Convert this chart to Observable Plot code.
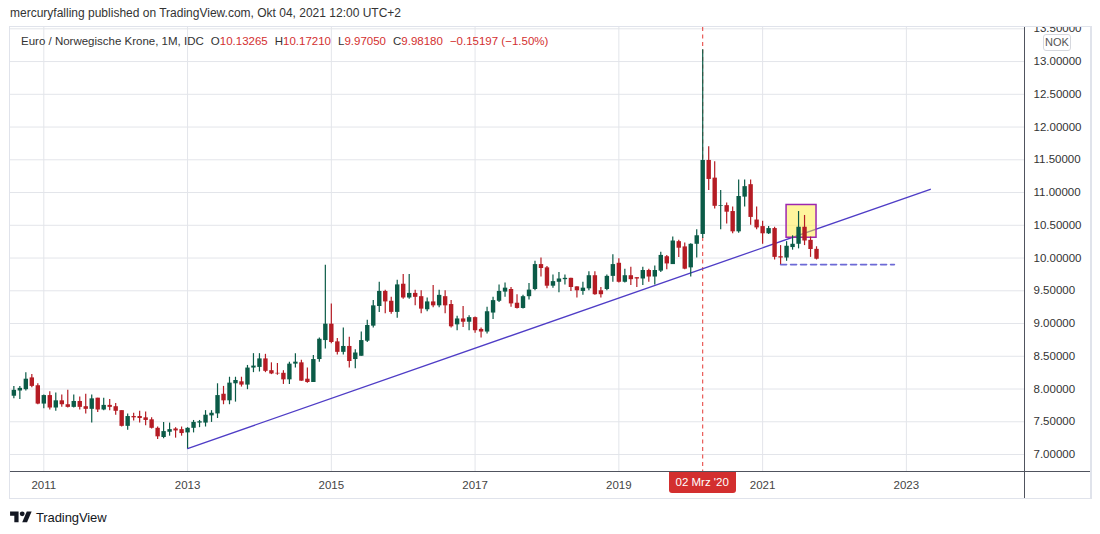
<!DOCTYPE html>
<html>
<head>
<meta charset="utf-8">
<script src="https://cdn.jsdelivr.net/npm/d3@7"></script>
<script src="https://cdn.jsdelivr.net/npm/@observablehq/plot@0.6"></script>
<style>
  html, body { margin:0; padding:0; background:#fff; }
  body { width:1100px; height:534px; position:relative; overflow:hidden; font-family:"Liberation Sans", Arial, sans-serif; color:#333; }
  #title { position:absolute; left:10px; top:6px; font-size:12px; color:#333; white-space:nowrap; }
  #frame { position:absolute; left:9px; top:26px; width:1080px; height:471px; border:1px solid #e0e3eb; border-right-width:2px; overflow:hidden; background:#fff; }
  #chart { position:absolute; left:0; top:0; }
  #legend { position:absolute; left:11px; top:8px; font-size:11.5px; color:#333; white-space:nowrap; z-index:3; }
  #legend span.item { margin-left:7px; }
  #legend .v { color:#d32f2f; }
  .axisline { position:absolute; background:#50535e; z-index:2; }
  #nok { position:absolute; left:1033px; top:7px; width:26px; height:15px; border:1px solid #d6d8de; border-radius:3px; background:#fff; font-size:11px; color:#555; text-align:center; line-height:15px; z-index:3; }
  #datebox { position:absolute; width:67px; height:21px; background:#d32f2f; color:#fff; font-size:11.5px; text-align:center; line-height:20px; border-radius:0 0 3px 3px; z-index:4; white-space:nowrap; }
  #brand { position:absolute; left:10px; top:508px; height:18px; display:flex; align-items:center; gap:4px; color:#131722; font-size:13px; letter-spacing:-0.1px; }
</style>
</head>
<body>
<div id="title">mercuryfalling published on TradingView.com, Okt 04, 2021 12:00 UTC+2</div>
<div id="frame">
  <div id="legend">Euro / Norwegische Krone, 1M, IDC<span class="item">O<span class="v">10.13265</span></span><span class="item">H<span class="v">10.17210</span></span><span class="item">L<span class="v">9.97050</span></span><span class="item">C<span class="v">9.98180</span></span><span class="item v">−0.15197 (−1.50%)</span></div>
  <div id="nok">NOK</div>
</div>
<div id="brand"><svg width="22" height="17" viewBox="0 0 36 28"><path d="M14 22H7V11H0V4h14v18z" fill="#131722"/><circle cx="20" cy="8" r="4" fill="#131722"/><path d="M28 22h-8l7.5-18h8L28 22z" fill="#131722"/></svg><span>TradingView</span></div>
<script>
// ---- monthly candles, EUR/NOK (Aug 2010 – Oct 2021) ----
const months = [
  "2010-08","2010-09","2010-10","2010-11","2010-12",
  "2011-01","2011-02","2011-03","2011-04","2011-05","2011-06","2011-07","2011-08","2011-09","2011-10","2011-11","2011-12",
  "2012-01","2012-02","2012-03","2012-04","2012-05","2012-06","2012-07","2012-08","2012-09","2012-10","2012-11","2012-12",
  "2013-01","2013-02","2013-03","2013-04","2013-05","2013-06","2013-07","2013-08","2013-09","2013-10","2013-11","2013-12",
  "2014-01","2014-02","2014-03","2014-04","2014-05","2014-06","2014-07","2014-08","2014-09","2014-10","2014-11","2014-12",
  "2015-01","2015-02","2015-03","2015-04","2015-05","2015-06","2015-07","2015-08","2015-09","2015-10","2015-11","2015-12",
  "2016-01","2016-02","2016-03","2016-04","2016-05","2016-06","2016-07","2016-08","2016-09","2016-10","2016-11","2016-12",
  "2017-01","2017-02","2017-03","2017-04","2017-05","2017-06","2017-07","2017-08","2017-09","2017-10","2017-11","2017-12",
  "2018-01","2018-02","2018-03","2018-04","2018-05","2018-06","2018-07","2018-08","2018-09","2018-10","2018-11","2018-12",
  "2019-01","2019-02","2019-03","2019-04","2019-05","2019-06","2019-07","2019-08","2019-09","2019-10","2019-11","2019-12",
  "2020-01","2020-02","2020-03","2020-04","2020-05","2020-06","2020-07","2020-08","2020-09","2020-10","2020-11","2020-12",
  "2021-01","2021-02","2021-03","2021-04","2021-05","2021-06","2021-07","2021-08","2021-09","2021-10"
];
const open = [
  7.89,7.97,7.99,8.17,8.05,
  7.77,7.90,7.71,7.82,7.76,7.72,7.81,7.73,7.69,7.86,7.68,7.75,
  7.73,7.67,7.43,7.58,7.58,7.56,7.53,7.40,7.26,7.34,7.39,7.38,
  7.33,7.40,7.48,7.48,7.59,7.62,7.92,7.82,8.08,8.11,8.06,8.32,
  8.33,8.46,8.28,8.24,8.24,8.14,8.38,8.40,8.15,8.10,8.45,8.74,
  8.99,8.72,8.56,8.65,8.45,8.50,8.73,8.96,9.26,9.49,9.34,9.17,
  9.60,9.39,9.46,9.41,9.21,9.33,9.27,9.41,9.29,8.98,9.07,9.02,
  9.09,8.91,8.87,9.16,9.34,9.48,9.52,9.31,9.23,9.41,9.52,9.90,
  9.85,9.57,9.63,9.67,9.69,9.56,9.49,9.53,9.73,9.50,9.52,9.72,
  9.92,9.63,9.73,9.70,9.68,9.81,9.71,9.80,10.02,9.90,10.25,10.17,
  9.85,10.21,10.36,11.49,11.22,10.79,10.80,10.71,10.40,10.93,11.12,10.58,
  10.48,10.37,10.45,10.02,10.00,10.16,10.21,10.47,10.27,10.13265
];
const high = [
  8.04,8.04,8.25,8.22,8.08,
  7.91,7.96,7.94,7.91,7.98,7.91,7.88,7.92,7.91,7.86,7.86,7.84,
  7.78,7.67,7.62,7.63,7.66,7.65,7.56,7.42,7.49,7.48,7.41,7.42,
  7.41,7.52,7.52,7.67,7.67,8.08,8.04,8.18,8.18,8.18,8.36,8.54,
  8.54,8.53,8.40,8.39,8.28,8.41,8.54,8.44,8.32,8.51,8.78,9.89,
  9.30,8.77,8.93,8.79,8.60,8.87,9.05,9.35,9.63,9.51,9.40,9.66,
  9.75,9.75,9.51,9.50,9.39,9.58,9.51,9.50,9.35,9.11,9.26,9.12,
  9.10,8.93,9.25,9.40,9.59,9.62,9.55,9.44,9.43,9.61,9.95,10.00,
  9.87,9.74,9.78,9.74,9.69,9.56,9.63,9.79,9.79,9.55,9.74,10.05,
  9.99,9.83,9.86,9.70,9.86,9.83,9.88,10.09,10.04,10.32,10.27,10.23,
  10.22,10.43,13.18,11.70,11.47,11.03,10.84,10.78,11.19,11.19,11.19,10.78,
  10.56,10.48,10.47,10.19,10.25,10.34,10.71,10.65,10.32,10.17210
];
const low = [
  7.85,7.84,7.97,8.02,7.76,
  7.70,7.68,7.66,7.72,7.71,7.71,7.68,7.62,7.48,7.64,7.67,7.67,
  7.60,7.42,7.37,7.51,7.48,7.44,7.39,7.23,7.24,7.28,7.25,7.28,
  7.09,7.33,7.41,7.42,7.49,7.55,7.76,7.76,7.80,8.03,7.99,8.25,
  8.26,8.25,8.22,8.21,8.07,8.07,8.32,8.12,8.09,8.10,8.41,8.61,
  8.69,8.52,8.52,8.32,8.31,8.50,8.71,8.93,9.17,9.15,9.14,9.08,
  9.37,9.37,9.27,9.15,9.18,9.24,9.24,9.15,8.93,8.89,8.94,8.89,
  8.85,8.78,8.84,9.06,9.32,9.40,9.25,9.22,9.22,9.36,9.50,9.71,
  9.53,9.54,9.47,9.59,9.49,9.39,9.43,9.50,9.43,9.39,9.50,9.63,
  9.62,9.62,9.58,9.55,9.58,9.63,9.59,9.78,9.82,9.90,10.01,9.82,
  9.71,10.00,10.30,11.03,10.75,10.43,10.52,10.37,10.38,10.78,10.50,10.43,
  10.21,10.36,9.97,9.90,9.95,10.12,10.14,10.19,10.01,9.97050
];
const close = [
  7.98,8.01,8.15,8.04,7.77,
  7.90,7.71,7.82,7.76,7.72,7.81,7.72,7.69,7.85,7.68,7.75,7.72,
  7.66,7.43,7.58,7.56,7.55,7.52,7.40,7.27,7.35,7.38,7.36,7.32,
  7.40,7.49,7.50,7.60,7.63,7.90,7.82,8.09,8.13,8.06,8.32,8.35,
  8.46,8.27,8.23,8.23,8.14,8.38,8.41,8.12,8.10,8.45,8.76,8.99,
  8.71,8.56,8.65,8.42,8.55,8.74,8.97,9.27,9.49,9.33,9.17,9.59,
  9.39,9.46,9.40,9.22,9.33,9.27,9.43,9.27,8.95,9.07,9.02,9.09,
  8.89,8.87,9.18,9.35,9.49,9.54,9.30,9.23,9.41,9.51,9.90,9.84,
  9.57,9.64,9.68,9.69,9.55,9.50,9.54,9.73,9.44,9.44,9.72,9.90,
  9.63,9.73,9.67,9.68,9.81,9.71,9.81,10.04,9.91,10.26,10.15,9.83,
  10.21,10.34,11.49,11.20,10.79,10.80,10.70,10.40,10.94,11.09,10.62,10.46,
  10.37,10.45,10.01,10.00,10.18,10.21,10.47,10.26,10.13,9.98180
];

// ---- axes ----
const yTicks = [7.0,7.5,8.0,8.5,9.0,9.5,10.0,10.5,11.0,11.5,12.0,12.5,13.0,13.5];
const xTickMonths = ["2011-01","2013-01","2015-01","2017-01","2019-01","2021-01","2023-01"];
const xTickLabels = ["2011","2013","2015","2017","2019","2021","2023"];

// ---- drawings ----
const trendMonths = ["2013-01","2023-05"];
const trendPrices = [7.09, 11.05];
const supportMonths = ["2021-04","2022-11"];
const supportPrices = [9.90, 9.90];
const boxMonths = ["2021-05","2021-10"];
const boxPrices = [10.31, 10.81];
const markerMonth = "2020-03";
const markerLabel = "02 Mrz '20";

// ---- view (month offsets from Jan 2011, price range) ----
const xDomain = [-5.56, 163.72];
const yDomain = [6.73, 13.52];

const UP = "#0b5b47", DOWN = "#b51c24";
const mi = s => (+s.slice(0, 4) - 2011) * 12 + (+s.slice(5, 7) - 1);

const candles = months.map((m, k) => ({
  i: mi(m), o: open[k], h: high[k], l: low[k], c: close[k], up: close[k] >= open[k]
}));
const trend = trendMonths.map((m, k) => ({i: mi(m), p: trendPrices[k]}));
const support = supportMonths.map((m, k) => ({i: mi(m), p: supportPrices[k]}));
const box = [{x1: mi(boxMonths[0]), x2: mi(boxMonths[1]), y1: boxPrices[0], y2: boxPrices[1]}];
const xTicks = xTickMonths.map(mi);
const xLabel = new Map(xTicks.map((t, k) => [t, xTickLabels[k]]));

const chart = Plot.plot({
  width: 1080,
  height: 471,
  marginLeft: 0,
  marginRight: 66,
  marginTop: 0,
  marginBottom: 26.3,
  x: {type: "linear", domain: xDomain, axis: null},
  y: {type: "linear", domain: yDomain, axis: null},
  style: {fontFamily: "Liberation Sans, Arial, sans-serif", fontSize: "11px", color: "#333", background: "#fff"},
  marks: [
    Plot.gridY(yTicks, {stroke: "#e3e5ea", strokeOpacity: 1}),
    Plot.gridX(xTicks, {stroke: "#e3e5ea", strokeOpacity: 1}),
    Plot.ruleX([mi(markerMonth)], {stroke: "#e53935", strokeWidth: 1, strokeDasharray: "4,3.5"}),
    Plot.line(trend, {x: "i", y: "p", stroke: "#4f3dc6", strokeWidth: 1.3}),
    Plot.line(support, {x: "i", y: "p", stroke: "#5450cf", strokeWidth: 1.6, strokeDasharray: "6,4", strokeOpacity: 0.85}),
    Plot.rect(box, {x1: "x1", x2: "x2", y1: "y1", y2: "y2", fill: "#ffeb3b", fillOpacity: 0.5, stroke: "#9c27b0", strokeWidth: 1.5}),
    Plot.ruleX(candles, {filter: d => d.up, x: "i", y1: "l", y2: "h", stroke: UP, strokeWidth: 1.2}),
    Plot.ruleX(candles, {filter: d => !d.up, x: "i", y1: "l", y2: "h", stroke: DOWN, strokeWidth: 1.2}),
    Plot.ruleX(candles, {filter: d => d.up, x: "i", y1: "o", y2: "c", stroke: UP, strokeWidth: 4.4}),
    Plot.ruleX(candles, {filter: d => !d.up, x: "i", y1: "o", y2: "c", stroke: DOWN, strokeWidth: 4.4}),
    Plot.axisY(yTicks, {anchor: "right", tickSize: 0, tickPadding: 9, label: null, tickFormat: d => d.toFixed(5), fontSize: 11.5, fill: "#333"}),
    Plot.axisX(xTicks, {anchor: "bottom", tickSize: 0, tickPadding: 9, label: null, tickFormat: d => xLabel.get(d), fontSize: 11.5, fill: "#444"})
  ]
});
chart.id = "chart";
const frame = document.getElementById("frame");
frame.appendChild(chart);

// axis separator lines & crosshair date label, placed through the chart's scales
const xs = chart.scale("x"), ys = chart.scale("y");
const xRight = xs.apply(xDomain[1]);
const yBottom = ys.apply(yDomain[0]);
const vline = document.createElement("div");
vline.className = "axisline";
Object.assign(vline.style, {left: (xRight - 0.5) + "px", top: "0px", width: "1px", height: "471px"});
frame.appendChild(vline);
const hline = document.createElement("div");
hline.className = "axisline";
Object.assign(hline.style, {left: "0px", top: (yBottom - 0.5) + "px", width: "1080px", height: "1px"});
frame.appendChild(hline);
const db = document.createElement("div");
db.id = "datebox";
db.textContent = markerLabel;
Object.assign(db.style, {left: (xs.apply(mi(markerMonth)) - 33.5) + "px", top: (yBottom + 0.5) + "px"});
frame.appendChild(db);
</script>
</body>
</html>
